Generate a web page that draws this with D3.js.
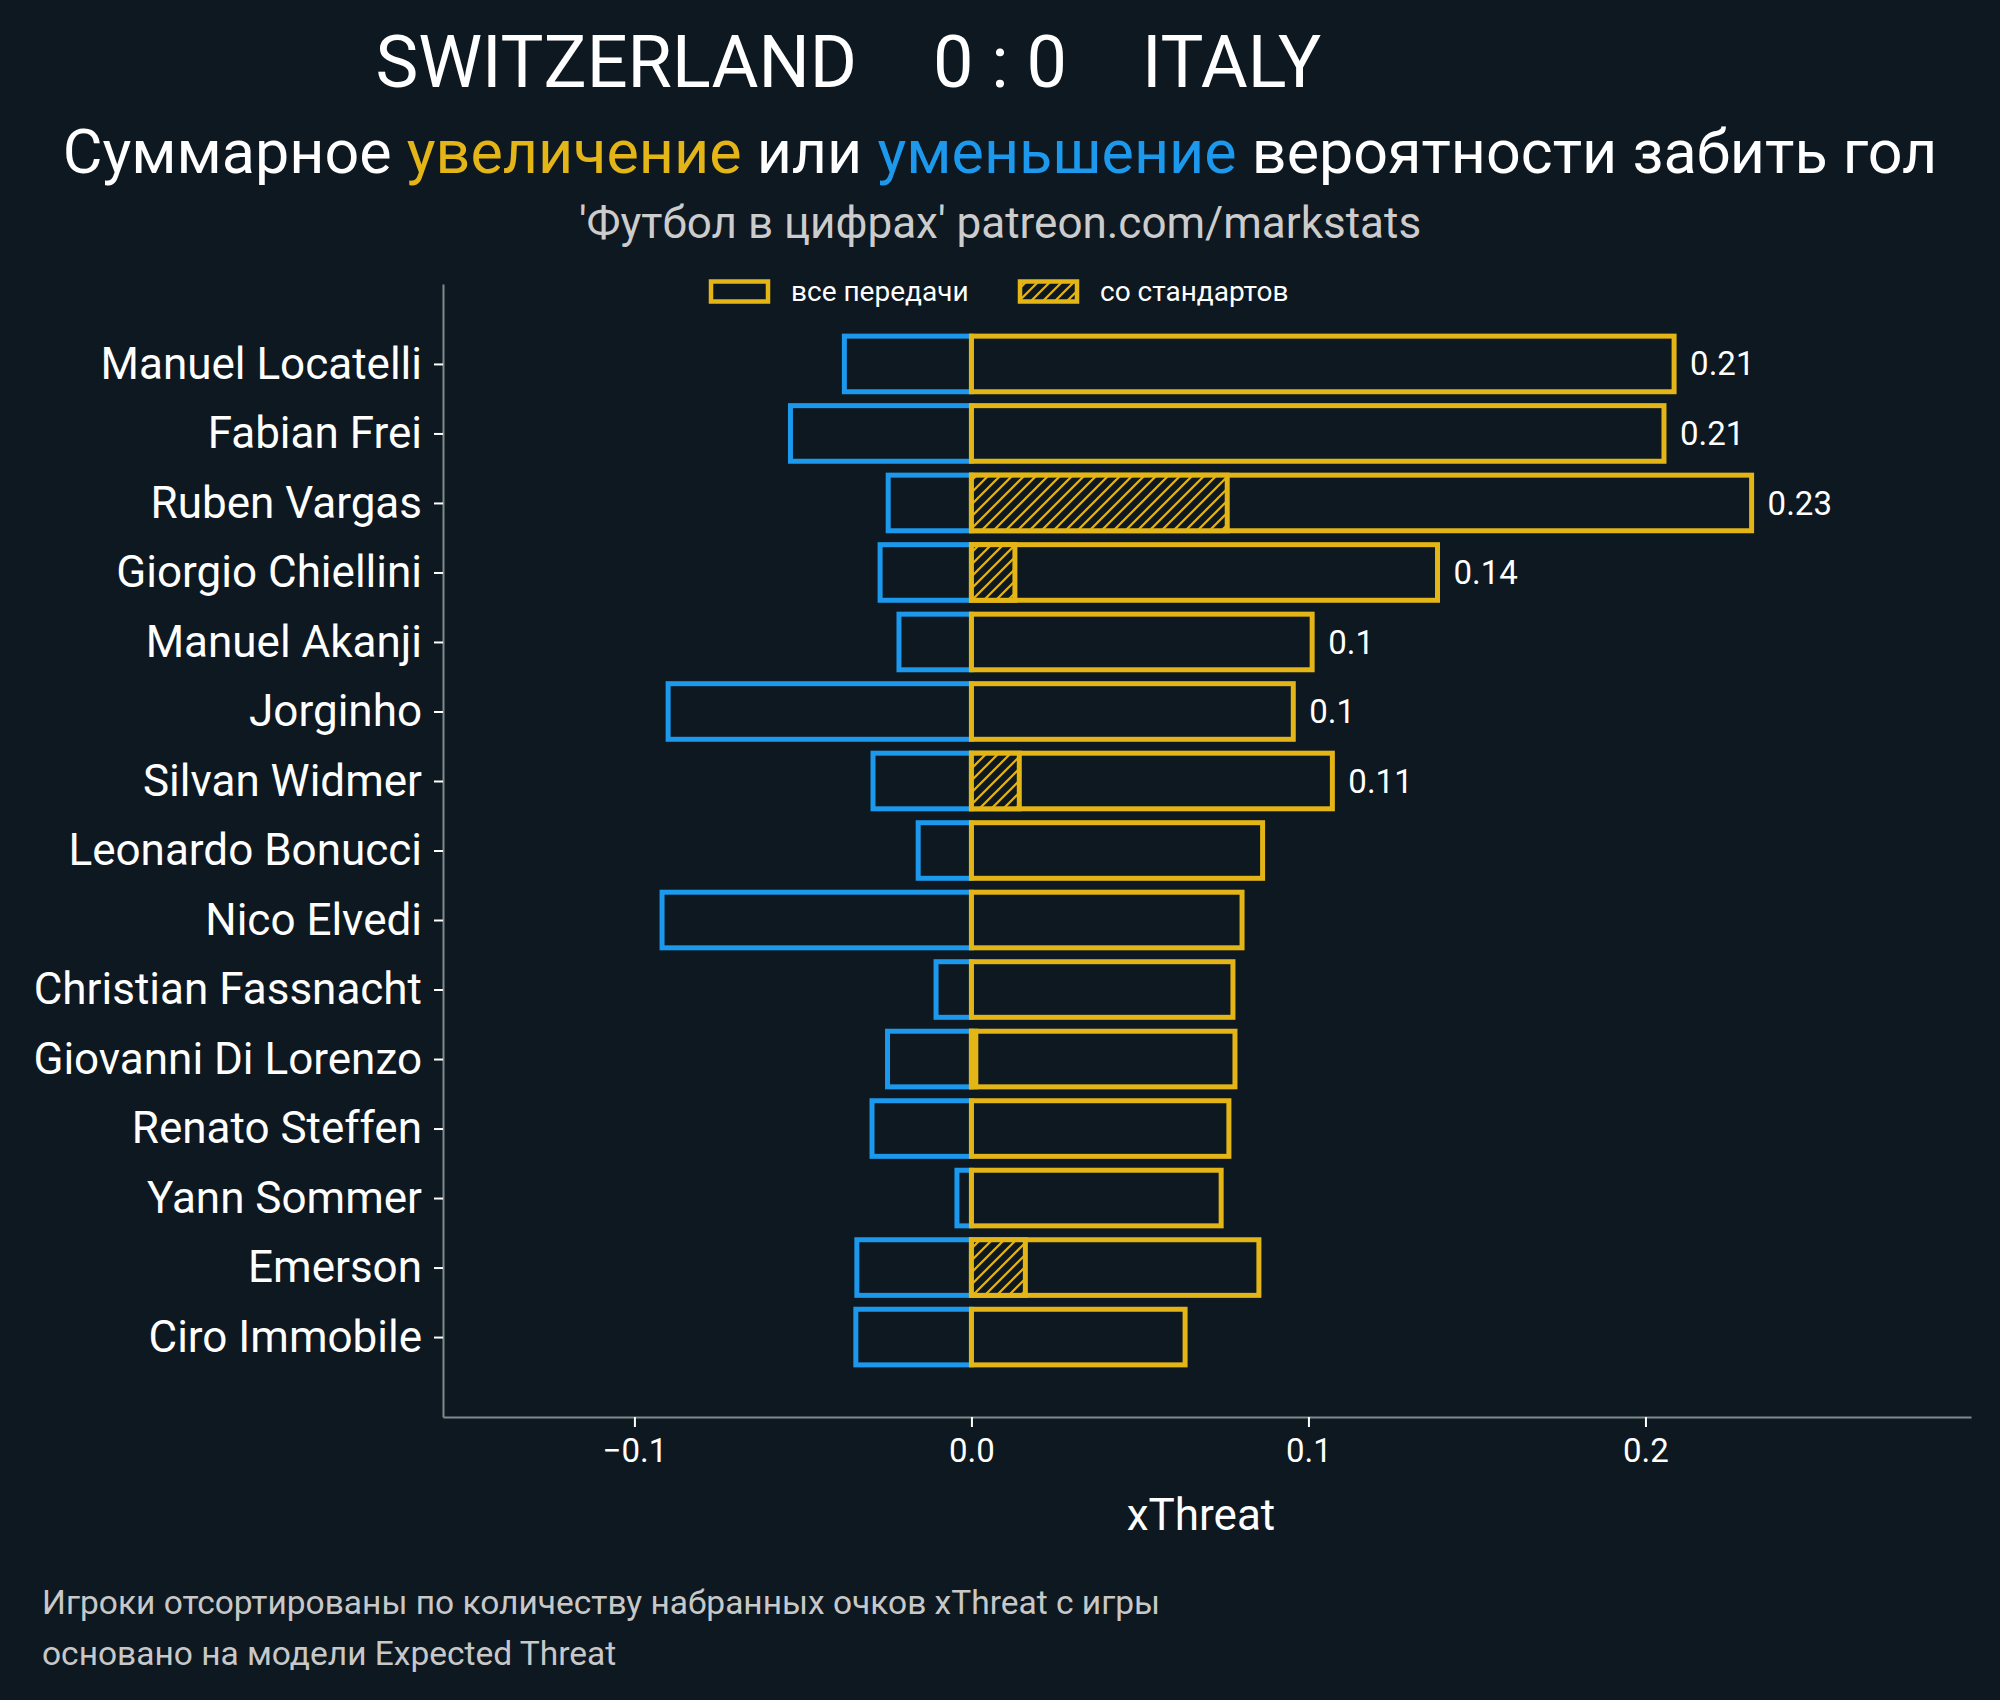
<!DOCTYPE html>
<html>
<head>
<meta charset="utf-8">
<script src="https://cdn.jsdelivr.net/npm/d3@7"></script>
<style>
  body { margin: 0; background: #0e1821; }
  svg text { font-family: Roboto, "Noto Sans", sans-serif; }
</style>
</head>
<body>
<div id="root"></div>
<script>
// data
const players = ["Manuel Locatelli", "Fabian Frei", "Ruben Vargas", "Giorgio Chiellini", "Manuel Akanji",
    "Jorginho", "Silvan Widmer", "Leonardo Bonucci", "Nico Elvedi", "Christian Fassnacht",
    "Giovanni Di Lorenzo", "Renato Steffen", "Yann Sommer", "Emerson", "Ciro Immobile"]
const gains = [0.2085, 0.2055, 0.2315, 0.1383, 0.1011, 0.0955, 0.1071, 0.0864, 0.0803, 0.0776,
    0.0782, 0.0764, 0.0741, 0.0853, 0.0634]
const losses = [-0.0377, -0.0537, -0.0247, -0.0271, -0.0215, -0.0900, -0.0292, -0.0158, -0.0918, -0.0105,
    -0.0249, -0.0295, -0.0043, -0.0340, -0.0343]
const setPieces = [0, 0, 0.0759, 0.0129, 0, 0, 0.0142, 0, 0, 0, 0.0013, 0, 0, 0.016, 0]
const xTicks = [-0.1, 0.0, 0.1, 0.2]
const legendItems = ["все передачи", "со стандартов"]
const footer = ["Игроки отсортированы по количеству набранных очков xThreat с игры",
    "основано на модели Expected Threat"]

const w = 2000, h = 1700
const bg = "#0e1821", yellow = "#e3b517", blue = "#1c98ec", spine = "#7d8b8b"

const svg = d3.select("#root").append("svg")
    .attr("width", w)
    .attr("height", h)

svg.append("rect").attr("width", w).attr("height", h).attr("fill", bg)

// hatch
const pat = svg.append("defs").append("pattern")
    .attr("id", "hatch")
    .attr("patternUnits", "userSpaceOnUse")
    .attr("width", 12).attr("height", 12)
pat.append("rect").attr("width", 12).attr("height", 12).attr("fill", bg)
pat.append("path")
    .attr("d", "M0,12 L12,0 M-3,3 L3,-3 M9,15 L15,9")
    .attr("stroke", yellow).attr("stroke-width", 2.2)

//scales
const x = d3.scaleLinear().domain([-0.1568, 0.2966]).range([443, 1971])
const y = d3.scaleLinear().domain([-1.15, 15.15]).range([284, 1417])
const step = y(1) - y(0)
const bh = step * 0.8

// title
const title = svg.append("g").attr("fill", "white").attr("font-size", 72)
title.append("text").attr("x", 857).attr("y", 87).attr("text-anchor", "end").text("SWITZERLAND")
title.append("text").attr("x", 1000).attr("y", 87).attr("text-anchor", "middle").text("0 : 0")
title.append("text").attr("x", 1142).attr("y", 87).attr("text-anchor", "start").text("ITALY")

const sub = svg.append("text").attr("x", 1000).attr("y", 173)
    .attr("text-anchor", "middle").attr("font-size", 61).attr("fill", "white")
sub.append("tspan").text("Суммарное ")
sub.append("tspan").attr("fill", yellow).text("увеличение")
sub.append("tspan").text(" или ")
sub.append("tspan").attr("fill", blue).text("уменьшение")
sub.append("tspan").text(" вероятности забить гол")

svg.append("text").attr("x", 1000).attr("y", 238)
    .attr("text-anchor", "middle").attr("font-size", 44).attr("fill", "#cccccc")
    .text("'Футбол в цифрах' patreon.com/markstats")

// bars
const rows = svg.append("g")
players.forEach((p, i) => {
    const g = rows.append("g")
    g.append("rect")
        .attr("x", x(losses[i])).attr("y", y(i) - bh / 2)
        .attr("width", x(0) - x(losses[i])).attr("height", bh)
        .attr("fill", "none").attr("stroke", blue).attr("stroke-width", 5)
    g.append("rect")
        .attr("x", x(0)).attr("y", y(i) - bh / 2)
        .attr("width", x(gains[i]) - x(0)).attr("height", bh)
        .attr("fill", "none").attr("stroke", yellow).attr("stroke-width", 5)
    if (setPieces[i] > 0) {
        g.append("rect")
            .attr("x", x(0)).attr("y", y(i) - bh / 2)
            .attr("width", x(setPieces[i]) - x(0)).attr("height", bh)
            .attr("fill", "url(#hatch)").attr("stroke", yellow).attr("stroke-width", 5)
    }
    if (gains[i] > 0.09) {
        g.append("text")
            .attr("x", x(gains[i]) + 16).attr("y", y(i))
            .attr("dy", "0.35em").attr("font-size", 33).attr("fill", "white")
            .text(+gains[i].toFixed(2))
    }
})

// axes
const yAxis = svg.append("g").attr("transform", "translate(443,0)")
    .call(d3.axisLeft(y).tickValues(d3.range(players.length)).tickFormat(i => players[i])
        .tickSize(9).tickSizeOuter(0).tickPadding(12))
const xAxis = svg.append("g").attr("transform", "translate(0,1417)")
    .call(d3.axisBottom(x).tickValues(xTicks).tickFormat(d => d3.format(".1f")(d).replace("-", "−"))
        .tickSize(10).tickSizeOuter(0).tickPadding(12))

yAxis.selectAll("text").attr("font-size", 44).attr("fill", "white")
xAxis.selectAll("text").attr("font-size", 33).attr("fill", "white")
svg.selectAll(".tick line").attr("stroke", "white").attr("stroke-width", 2)
svg.selectAll(".domain").attr("stroke", spine).attr("stroke-width", 2)

svg.append("text").attr("x", 1201).attr("y", 1530)
    .attr("text-anchor", "middle").attr("font-size", 44).attr("fill", "white")
    .text("xThreat")

// legend
const legX = [711, 1020]
legendItems.forEach((t, i) => {
    svg.append("rect")
        .attr("x", legX[i]).attr("y", 281.5).attr("width", 57).attr("height", 20)
        .attr("fill", i ? "url(#hatch)" : "none").attr("stroke", yellow).attr("stroke-width", 4.5)
    svg.append("text").attr("x", legX[i] + 80).attr("y", 301)
        .attr("font-size", 28).attr("fill", "white").text(t)
})

// footer
svg.selectAll("text.foot").data(footer).enter().append("text")
    .attr("class", "foot")
    .attr("x", 42).attr("y", (d, i) => 1614 + i * 51)
    .attr("font-size", 33.5).attr("fill", "#c8c8c8")
    .text(d => d)
</script>
</body>
</html>
